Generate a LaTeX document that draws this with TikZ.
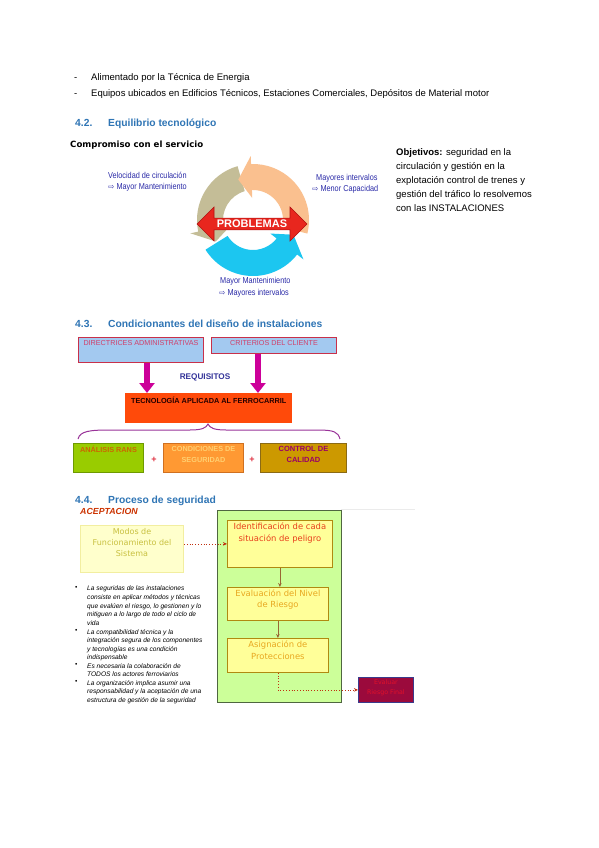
\documentclass[tikz,border=0pt]{standalone}
\usepackage{fontspec}
\setmainfont{Liberation Sans}
\newfontfamily\dv{DejaVu Sans}
\newfontfamily\narrowf[FakeStretch=0.85]{Liberation Sans}
\usetikzlibrary{arrows.meta,shapes.arrows,calc}
\definecolor{hblue}{HTML}{2F75B5}
\definecolor{lblue}{HTML}{2B2BA8}
\definecolor{peach}{HTML}{FAC08F}
\definecolor{khaki}{HTML}{C4BD97}
\definecolor{cyanr}{HTML}{1CC6F0}
\definecolor{probred}{HTML}{E8261E}
\definecolor{probdark}{HTML}{B01010}
\definecolor{skyb}{HTML}{A3C9F0}
\definecolor{boxred}{HTML}{C8304A}
\definecolor{pinkt}{HTML}{D0406A}
\definecolor{magar}{HTML}{CC0099}
\definecolor{navyt}{HTML}{333399}
\definecolor{tecor}{HTML}{FF4A0A}
\definecolor{bracep}{HTML}{993399}
\definecolor{gfill}{HTML}{99CC00}
\definecolor{gline}{HTML}{6E9A00}
\definecolor{ofill}{HTML}{FF9933}
\definecolor{oline}{HTML}{D07020}
\definecolor{otext}{HTML}{FFD070}
\definecolor{cfill}{HTML}{CC9900}
\definecolor{cline}{HTML}{8B6A14}
\definecolor{ctext}{HTML}{990066}
\definecolor{rtext}{HTML}{CC6600}
\definecolor{plusred}{HTML}{E03040}
\definecolor{acep}{HTML}{CC3300}
\definecolor{lyel}{HTML}{FFFFCC}
\definecolor{lyelline}{HTML}{F2EEA0}
\definecolor{modt}{HTML}{C8C040}
\definecolor{bgreen}{HTML}{CCFF99}
\definecolor{bgline}{HTML}{4F6640}
\definecolor{yel}{HTML}{FFFF99}
\definecolor{yelline}{HTML}{B08A10}
\definecolor{idt}{HTML}{E8401C}
\definecolor{evt}{HTML}{E8A820}
\definecolor{brarr}{HTML}{996633}
\definecolor{dotc}{HTML}{C03010}
\definecolor{finf}{HTML}{9B0A3C}
\definecolor{finl}{HTML}{3A3A8C}
\definecolor{fint}{HTML}{E0102A}
\begin{document}
\begin{tikzpicture}[x=1pt,y=-1pt,
  body/.style={font=\fontsize{9.5}{11}\selectfont, inner sep=0pt, text=black, anchor=base west},
  head/.style={font=\fontsize{10.3}{12}\selectfont\bfseries, text=hblue, inner sep=0pt, anchor=base west},
  bl/.style={font=\narrowf\fontsize{8.6}{10}\selectfont, text=lblue, inner sep=0pt, anchor=base west},
  capt/.style={font=\fontsize{7.2}{8}\selectfont, inner sep=0pt, anchor=north},
  rect/.style={anchor=north west, inner sep=0pt},
  marrow/.style={draw=magar, line width=5.5pt, -{Triangle[width=15pt,length=10pt]}},
  bullt/.style={font=\fontsize{6.6}{8.6}\selectfont\itshape, inner sep=0pt, anchor=north west, align=left},
  bulls/.style={font=\fontsize{6.6}{8.6}\selectfont, inner sep=0pt, anchor=north west},
  comic/.style={font=\dv\fontsize{8.4}{11.5}\selectfont, inner sep=0pt, align=center, anchor=north},
  brarrow/.style={draw=brarr, line width=0.8pt, -{Stealth[length=4pt,width=3.5pt]}},
  dotarrow/.style={draw=dotc, line width=0.8pt, dotted, -{Stealth[length=4pt,width=3.5pt]}},
  arr/.style={\dv\fontsize{7.5}{8}\selectfont}
]
\useasboundingbox (0,0) rectangle (599,848);
\fill[white] (0,0) rectangle (599,848);

% --- top lines
\node[body] (d1) at (74,81) {-};
\node[body] (t1) at (91,81) {Alimentado por la Técnica de Energia};
\node[body] (d2) at (74,97) {-};
\node[body] (t2) at (91,97) {Equipos ubicados en Edificios Técnicos, Estaciones Comerciales, Depósitos de Material motor};

% --- 4.2
\node[head] (h42n) at (75,126) {4.2.};
\node[head] (h42) at (108,126) {Equilibrio tecnológico};
\node[font=\dv\fontsize{8.6}{10}\selectfont\bfseries, inner sep=0pt, anchor=base west] (comp) at (70,147) {Compromiso con el servicio};

\node[body] (o1) at (396,155) {\textbf{Objetivos:} seguridad en la};
\node[body] (o2) at (396,169) {circulación y gestión en la};
\node[body] (o3) at (396,183) {explotación control de trenes y};
\node[body] (o4) at (396,197) {gestión del tráfico lo resolvemos};
\node[body] (o5) at (396,211) {con las INSTALACIONES};

% cycle
\begin{scope}[shift={(253,220)}, yscale=-1]
  \fill[cyanr] (212:56) arc[start angle=212,end angle=322,radius=56] -- (322:64) -- (340:43) -- (322:22) -- (322:30) arc[start angle=322,end angle=212,radius=30] -- cycle;
  \fill[khaki] (106:56) arc[start angle=106,end angle=192,radius=56] -- (192:64) -- (210:43) -- (192:22) -- (192:30) arc[start angle=192,end angle=106,radius=30] -- cycle;
  \fill[peach] (-14:56) arc[start angle=-14,end angle=92,radius=56] -- (92:64) -- (110:43) -- (92:22) -- (92:30) arc[start angle=92,end angle=-14,radius=30] -- cycle;
\end{scope}
\node[double arrow, fill=probred, draw=probdark, line width=0.6pt, minimum height=110pt, minimum width=34pt,
  double arrow head extend=8pt, double arrow head indent=0pt, inner sep=0pt,
  font=\fontsize{11}{12}\selectfont\bfseries, text=white] (prob) at (252,224) {PROBLEMAS};

\node[bl] (c1a) at (108,178) {Velocidad de circulación};
\node[bl] (c1b) at (108,189) {{\dv\fontsize{7.5}{8}\selectfont ⇨} Mayor Mantenimiento};
\node[bl] (c2a) at (316,180) {Mayores intervalos};
\node[bl] (c2b) at (312,191) {{\dv\fontsize{7.5}{8}\selectfont ⇨} Menor Capacidad};
\node[bl] (c3a) at (220,283) {Mayor Mantenimiento};
\node[bl] (c3b) at (219,295) {{\dv\fontsize{7.5}{8}\selectfont ⇨} Mayores intervalos};

% --- 4.3
\node[head] (h43n) at (75,327) {4.3.};
\node[head] (h43) at (108,327) {Condicionantes del diseño de instalaciones};

\node[rect, draw=boxred, line width=1pt, fill=skyb, minimum width=125pt, minimum height=25pt] (dir) at (78,337) {};
\node[capt, text=pinkt] (dirt) at ([yshift=-3pt]dir.north) {DIRECTRICES ADMINISTRATIVAS};
\node[rect, draw=boxred, line width=1pt, fill=skyb, minimum width=125pt, minimum height=16pt] (cri) at (211,337) {};
\node[capt, text=pinkt] (crit) at ([yshift=-3pt]cri.north) {CRITERIOS DEL CLIENTE};

\node[rect, fill=tecor, minimum width=167pt, minimum height=30pt] (tec) at (125,393) {};
\node[capt, font=\fontsize{7.3}{8}\selectfont\bfseries, text=black!85!red] (tect) at ([yshift=-3.5pt]tec.north) {TECNOLOGÍA APLICADA AL FERROCARRIL};

\draw[marrow] ([xshift=6pt]dir.south) -- ([xshift=6pt]dir.south |- tec.north);
\draw[marrow] ([xshift=-16pt]cri.south) -- ([xshift=-16pt]cri.south |- tec.north);
\node[font=\fontsize{8.2}{9}\selectfont\bfseries, text=navyt, inner sep=0pt] (req) at (205,377) {REQUISITOS};

\coordinate (brl) at (78,439);
\coordinate (brc) at (208,424);
\coordinate (brr) at (340,439);
\draw[bracep, line width=1pt] (brl) .. controls (80,431) and (90,430) .. (110,430) -- (190,430) .. controls (202,430) and (206,428) .. (brc)
  .. controls (210,428) and (214,430) .. (226,430) -- (318,430) .. controls (334,430) and (338,432) .. (brr);

\node[rect, draw=gline, line width=1pt, fill=gfill, minimum width=70pt, minimum height=29pt] (rans) at (73,443) {};
\node[capt, font=\fontsize{7.3}{8}\selectfont\bfseries, text=rtext] (ranst) at ([yshift=-3pt]rans.north) {ANÁLISIS RANS};
\node[rect, draw=oline, line width=1pt, fill=ofill, minimum width=80pt, minimum height=29pt] (cond) at (163,443) {};
\node[capt, font=\fontsize{7.3}{11}\selectfont\bfseries, text=otext, align=center] (condt) at ([yshift=-3pt]cond.north) {CONDICIONES DE\\SEGURIDAD};
\node[rect, draw=cline, line width=1pt, fill=cfill, minimum width=86pt, minimum height=29pt] (cal) at (260,443) {};
\node[capt, font=\fontsize{7.5}{11}\selectfont\bfseries, text=ctext, align=center] (calt) at ([yshift=-3pt]cal.north) {CONTROL DE\\CALIDAD};
\node[font=\fontsize{9}{9}\selectfont\bfseries, text=plusred, inner sep=0pt] (p1) at (154,460) {+};
\node[font=\fontsize{9}{9}\selectfont\bfseries, text=plusred, inner sep=0pt] (p2) at (252,460) {+};

% --- 4.4
\node[head] (h44n) at (75,503) {4.4.};
\node[head] (h44) at (108,503) {Proceso de seguridad};
\node[font=\fontsize{8.8}{9}\selectfont\bfseries\itshape, text=acep, inner sep=0pt, anchor=base west] (acept) at (80,514) {ACEPTACION};
\draw[black!8, line width=0.6pt] (341,509) -- (415,509);

\node[rect, draw=lyelline, line width=1pt, fill=lyel, minimum width=103pt, minimum height=47pt] (modos) at (80,525) {};
\node[comic, font=\dv\fontsize{8}{11}\selectfont, text=modt] (modost) at ([yshift=-3pt]modos.north) {Modos de\\Funcionamiento del\\Sistema};

\node[rect, draw=bgline, line width=1pt, fill=bgreen, minimum width=124pt, minimum height=192pt] (grn) at (217,510) {};
\node[rect, draw=yelline, line width=0.8pt, fill=yel, minimum width=105pt, minimum height=47pt] (ide) at (227,520) {};
\node[comic, text=idt] (idet) at ([yshift=-3pt]ide.north) {Identificación de cada\\situación de peligro};
\node[rect, draw=yelline, line width=0.8pt, fill=yel, minimum width=101pt, minimum height=33pt] (eva) at (227,587) {};
\node[comic, text=evt] (evat) at ([yshift=-2.5pt]eva.north) {Evaluación del Nivel\\de Riesgo};
\node[rect, draw=yelline, line width=0.8pt, fill=yel, minimum width=101pt, minimum height=34pt] (asi) at (227,638) {};
\node[comic, text=evt] (asit) at ([yshift=-3pt]asi.north) {Asignación de\\Protecciones};
\node[rect, draw=finl, line width=0.8pt, fill=finf, minimum width=55pt, minimum height=25pt] (fin) at (358,677) {};
\node[comic, font=\dv\fontsize{6.3}{9.5}\selectfont, text=fint] (fint) at ([yshift=-3pt]fin.north) {Evaluar\\Riesgo Final};

\draw[brarrow] (ide.south) -- (ide.south |- eva.north);
\draw[brarrow] (eva.south) -- (eva.south |- asi.north);
\draw[dotarrow] (modos.east |- ide.west) -- (ide.west);
\draw[dotarrow] (asi.south) |- (fin.west);

% bullets
\node[bulls] (b1) at (75,586) {•};
\node[bullt] (bt1) at (87,586) {La seguridas de las instalaciones\\consiste en aplicar métodos y técnicas\\que evalúen el riesgo, lo gestionen y lo\\mitiguen a lo largo de todo el ciclo de\\vida};
\node[bulls] (b2) at (75,629) {•};
\node[bullt] (bt2) at (87,629) {La compatibilidad técnica y la\\integración segura de los componentes\\y tecnologías es una condición\\indispensable};
\node[bulls] (b3) at (75,663) {•};
\node[bullt] (bt3) at (87,663) {Es necesaria la colaboración de\\TODOS los actores ferroviarios};
\node[bulls] (b4) at (75,680) {•};
\node[bullt] (bt4) at (87,680) {La organización implica asumir una\\responsabilidad y la aceptación de una\\estructura de gestión de la seguridad};
\end{tikzpicture}
\end{document}
